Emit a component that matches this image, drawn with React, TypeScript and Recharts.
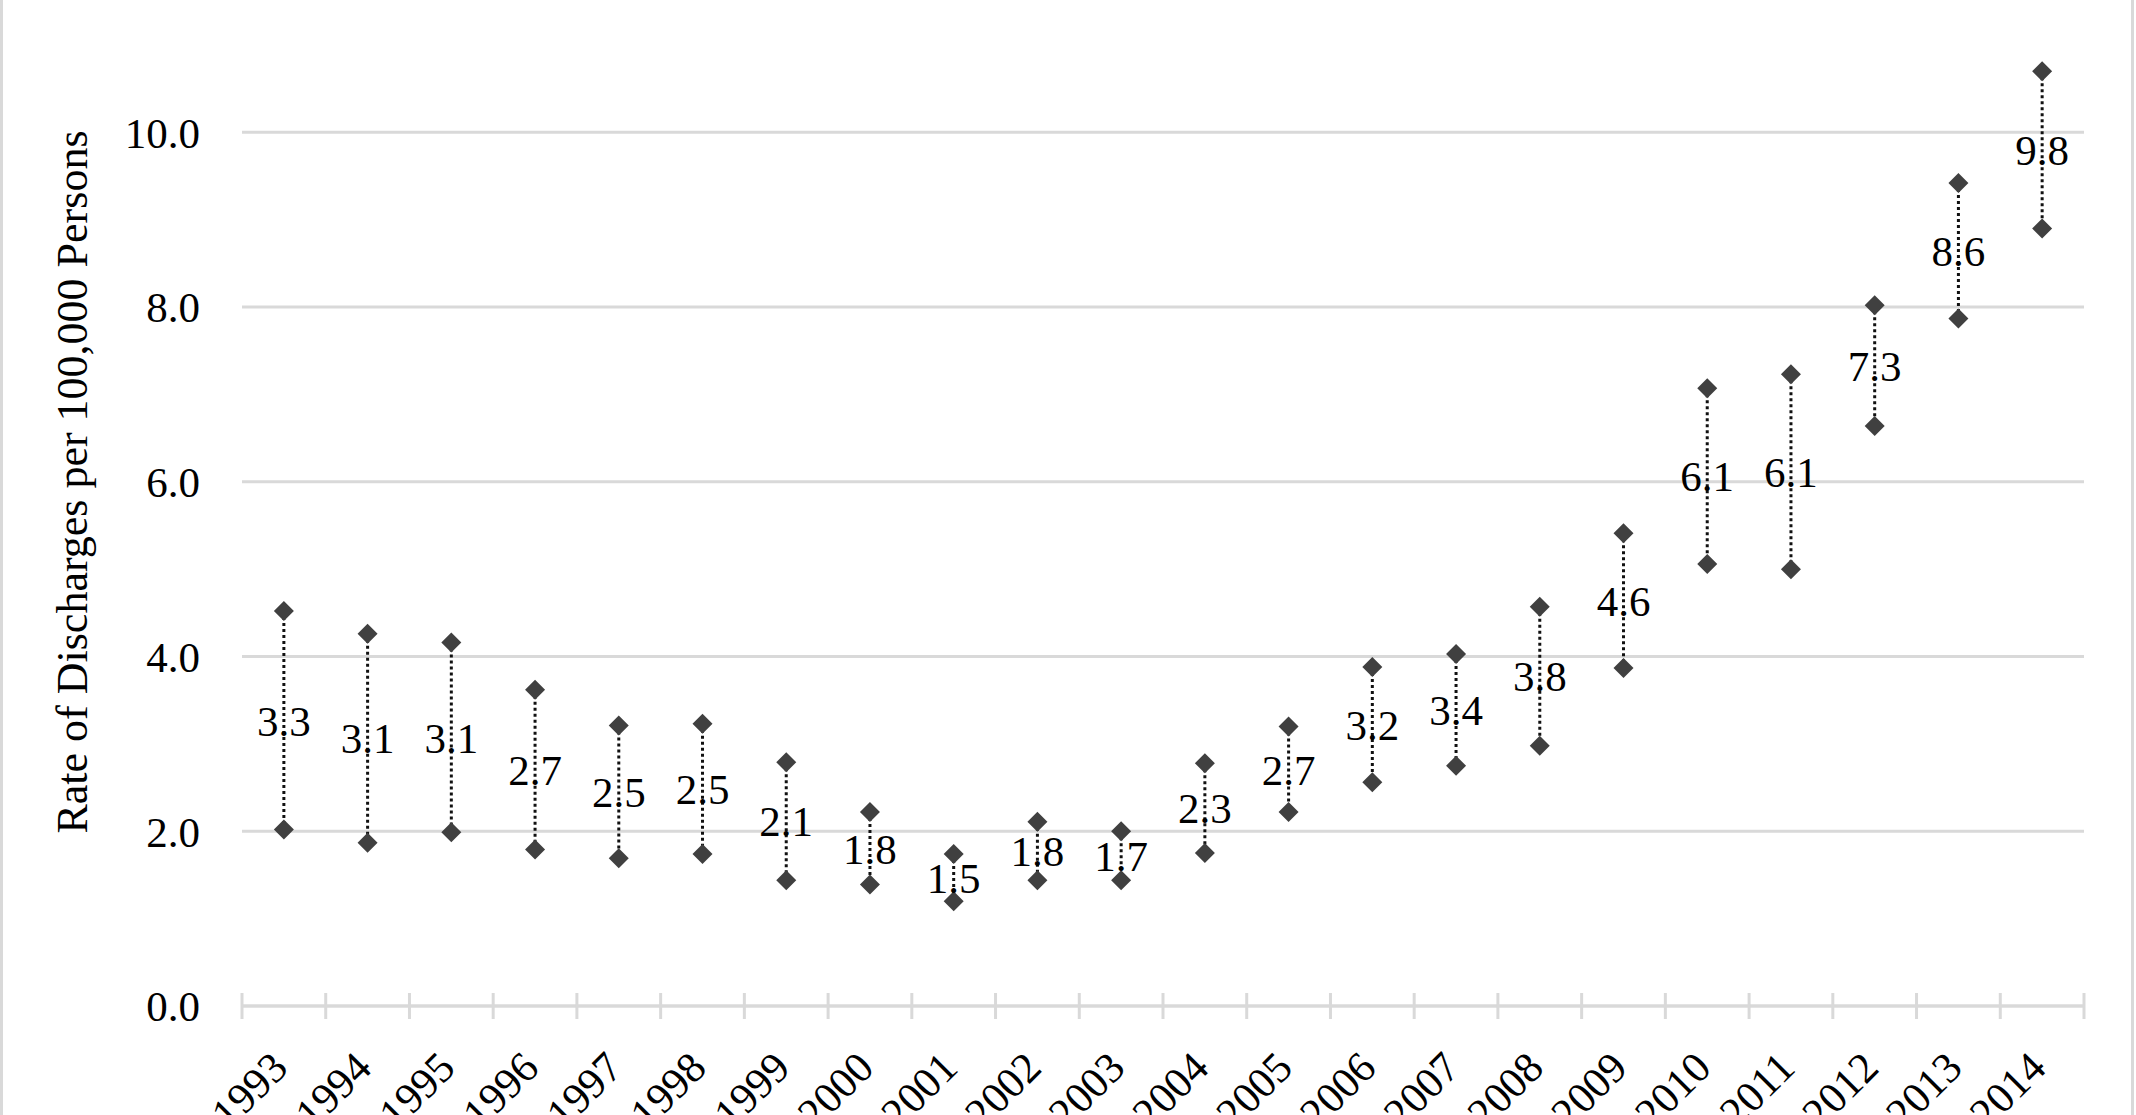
import { ComposedChart, Bar, Scatter, XAxis, YAxis, CartesianGrid, LabelList } from 'recharts'

const YEARS = ['1993', '1994', '1995', '1996', '1997', '1998', '1999', '2000', '2001', '2002', '2003',
  '2004', '2005', '2006', '2007', '2008', '2009', '2010', '2011', '2012', '2013', '2014']
const UPPER = [4.52, 4.26, 4.16, 3.62, 3.21, 3.23, 2.79, 2.22, 1.74, 2.11, 2.0,
  2.78, 3.2, 3.88, 4.03, 4.57, 5.41, 7.07, 7.23, 8.02, 9.42, 10.7]
const LOWER = [2.02, 1.87, 1.99, 1.79, 1.69, 1.74, 1.44, 1.39, 1.2, 1.44, 1.44,
  1.75, 2.22, 2.56, 2.75, 2.98, 3.87, 5.06, 5.0, 6.64, 7.87, 8.9]
const LABELS = ['3.3', '3.1', '3.1', '2.7', '2.5', '2.5', '2.1', '1.8', '1.5', '1.8', '1.7',
  '2.3', '2.7', '3.2', '3.4', '3.8', '4.6', '6.1', '6.1', '7.3', '8.6', '9.8']
const Y_TICKS = [0, 2, 4, 6, 8, 10]

const FONT = '"Liberation Serif", "Times New Roman", serif'
const GRID = '#d9d9d9'
const MARKER = '#404040'

const W = 2136
const H = 1115
const M = { top: 45, right: 52, bottom: 0, left: 0 }
const Y_AXIS_W = 242
const X_AXIS_H = 109
const BAND = (W - M.left - M.right - Y_AXIS_W) / YEARS.length

const rows = YEARS.map((year, i) => ({
  year,
  upper: UPPER[i],
  lower: LOWER[i],
  range: [LOWER[i], UPPER[i]],
  label: LABELS[i],
}))

const Diamond = (p: any) => {
  const { cx, cy } = p
  if (cx == null || cy == null) return null
  const s = 10
  return <polygon points={`${cx},${cy - s} ${cx + s},${cy} ${cx},${cy + s} ${cx - s},${cy}`} fill={MARKER} />
}

// dotted connector between low and high
const Connector = (p: any) => {
  const { x, y, width, height } = p
  const cx = x + width / 2
  return <line x1={cx} x2={cx} y1={y} y2={y + height} stroke="#111" strokeWidth={3} strokeDasharray="3 3" />
}

const YearTick = (p: any) => {
  const { x, y, payload } = p
  const idx = p.index ?? payload?.index ?? 0
  const left = x - BAND / 2
  const tx = x + 6
  const ty = y + 64
  return (
    <g>
      <line x1={left} x2={left} y1={y - 13} y2={y + 13} stroke={GRID} strokeWidth={3} />
      {idx === YEARS.length - 1 && (
        <line x1={x + BAND / 2} x2={x + BAND / 2} y1={y - 13} y2={y + 13} stroke={GRID} strokeWidth={3} />
      )}
      <text x={tx} y={ty} transform={`rotate(-45 ${tx} ${ty})`} textAnchor="end" fill="#000" fontSize={43} fontFamily={FONT}>
        {payload.value}
      </text>
    </g>
  )
}

const YTitle = () => (
  <text x={72} y={482} transform="rotate(-90 72 482)" textAnchor="middle" dominantBaseline="central" fill="#000" fontSize={44} fontFamily={FONT}>
    Rate of Discharges per 100,000 Persons
  </text>
)

export default function App() {
  return (
    <div style={{ position: 'absolute', left: 0, top: 0, width: W, height: H, background: '#fff', overflow: 'hidden' }}>
      <div style={{ position: 'absolute', left: 0, top: 0, width: 3, height: H, background: GRID }} />
      <div style={{ position: 'absolute', left: 2131, top: 0, width: 3, height: H, background: GRID }} />
      <ComposedChart width={W} height={H} data={rows} margin={M}>
        <CartesianGrid vertical={false} horizontalValues={Y_TICKS} stroke={GRID} strokeWidth={3} />
        <XAxis
          dataKey="year"
          type="category"
          height={X_AXIS_H}
          interval={0}
          tickSize={0}
          tickMargin={0}
          tickLine={false}
          axisLine={{ stroke: GRID, strokeWidth: 3 }}
          tick={<YearTick />}
        />
        <YAxis
          width={Y_AXIS_W}
          domain={[0, 11]}
          ticks={Y_TICKS}
          tickFormatter={(v: number) => v.toFixed(1)}
          axisLine={false}
          tickLine={false}
          tickSize={0}
          tickMargin={42}
          tick={{ fill: '#000', fontSize: 43, fontFamily: FONT }}
          label={{ content: () => <YTitle /> }}
        />
        <Bar dataKey="range" shape={<Connector />} isAnimationActive={false}>
          <LabelList dataKey="label" position="center" fill="#000" fontSize={43} fontFamily={FONT} />
        </Bar>
        <Scatter dataKey="upper" shape={<Diamond />} isAnimationActive={false} />
        <Scatter dataKey="lower" shape={<Diamond />} isAnimationActive={false} />
      </ComposedChart>
    </div>
  )
}
